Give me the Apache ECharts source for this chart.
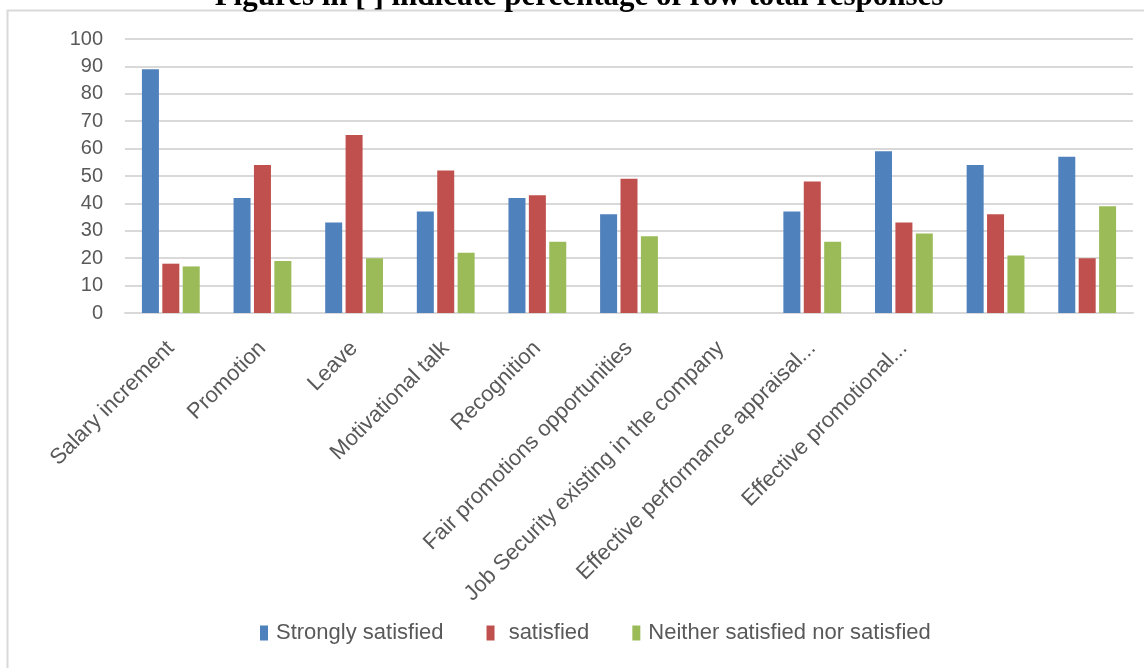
<!DOCTYPE html>
<html>
<head>
<meta charset="utf-8">
<script src="https://cdn.jsdelivr.net/npm/echarts@6/dist/echarts.min.js"></script>
<style>
html,body{margin:0;padding:0;background:#fff;}
#c{width:1144px;height:668px;}
</style>
</head>
<body>
<div id="c"></div>
<script>
var categories = ["Salary increment","Promotion","Leave","Motivational talk","Recognition","Fair promotions opportunities","Job Security existing in the company","Effective performance appraisal...","Effective promotional...","",""];
var strongly = [89,42,33,37,42,36,null,37,59,54,57];
var satisfied = [18,54,65,52,43,49,null,48,33,36,20];
var neither = [17,19,20,22,26,28,null,26,29,21,39];
var yTicks = [0,10,20,30,40,50,60,70,80,90,100];
var seriesNames = ["Strongly satisfied","satisfied","Neither satisfied nor satisfied"];
var colors = ["#4F81BD","#C0504D","#9BBB59"];

var chart = echarts.init(document.getElementById('c'));
var font = "'Liberation Sans', Arial, sans-serif";
function bar(name, data, color){
  return {name:name,type:'bar',data:data,barWidth:17,barGap:'20%',
    itemStyle:{color:color},emphasis:{disabled:true}};
}
chart.setOption({
  animation:false,
  title:{text:"Figures in [ ] indicate percentage of row total responses",left:574,textAlign:'center',top:-24,
    textStyle:{fontFamily:"'Liberation Serif','Times New Roman',serif",fontSize:31,fontWeight:'bold',color:'#000'}},
  graphic:[{type:'rect',shape:{x:7.5,y:10.5,width:1200,height:700},style:{fill:'none',stroke:'#d9d9d9',lineWidth:2},silent:true,z:-1}],
  grid:{left:125,right:11,top:39,bottom:355,containLabel:false},
  legend:{data:seriesNames,bottom:19,left:255,itemWidth:8,itemHeight:15,itemGap:43,icon:'rect',
    formatter:function(n){return n==='satisfied' ? ' '+n : n;},
    textStyle:{fontFamily:font,fontSize:22,color:'#595959',padding:[0,0,0,3]}},
  xAxis:{type:'category',data:categories,
    axisLine:{lineStyle:{color:'#d9d9d9',width:2}},axisTick:{show:false},
    axisLabel:{interval:0,rotate:45,fontFamily:font,fontSize:22,color:'#595959',margin:32}},
  yAxis:{type:'value',min:yTicks[0],max:yTicks[yTicks.length-1],interval:10,
    axisLine:{show:false},axisTick:{show:false},
    splitLine:{lineStyle:{color:'#d9d9d9',width:2}},
    axisLabel:{fontFamily:font,fontSize:20,color:'#595959',margin:22}},
  series:[bar(seriesNames[0],strongly,colors[0]),bar(seriesNames[1],satisfied,colors[1]),bar(seriesNames[2],neither,colors[2])]
});
</script>
</body>
</html>
